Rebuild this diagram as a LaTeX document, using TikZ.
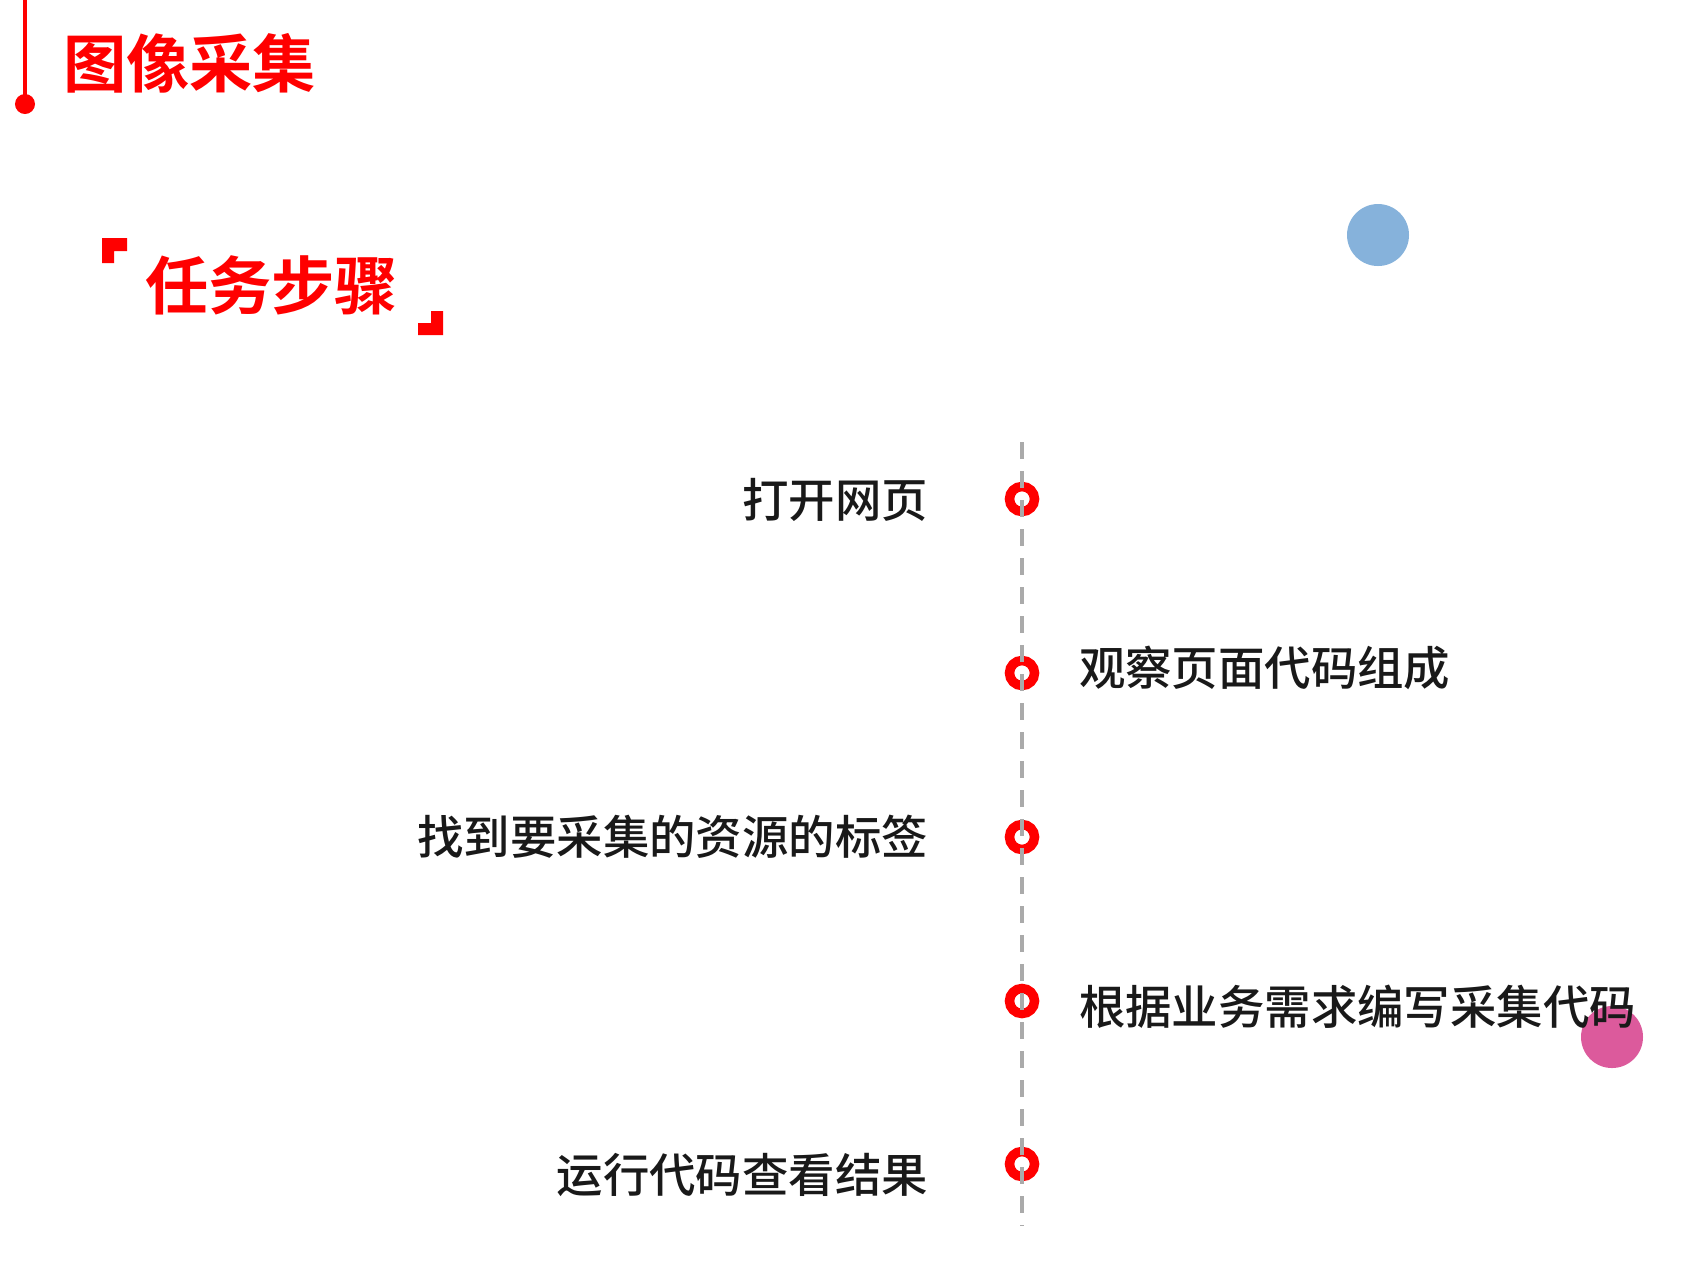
\documentclass[tikz,border=0pt]{standalone}
\usepackage{fontspec}
\newfontfamily\cjk{Noto Sans CJK SC Medium}
\newfontfamily\cjkhead{Noto Sans CJK SC Bold}
\definecolor{stepred}{RGB}{255,0,0}
\definecolor{railgray}{RGB}{170,170,170}
\definecolor{dotblue}{RGB}{134,178,219}
\definecolor{dotpink}{RGB}{220,90,156}

\begin{document}
\begin{tikzpicture}
  [x=0.01cm,y=-0.01cm,
   every node/.style={inner sep=0pt,outer sep=0pt},
   ring/.style={circle,draw=stepred,line width=0.095cm,minimum size=0.25cm},
   steptext/.style={font=\cjk\fontsize{13.2pt}{16pt}\selectfont,text=black!90},
   headtext/.style={font=\cjkhead\fontsize{18pt}{22pt}\selectfont,text=stepred}]
  \useasboundingbox (0,0) rectangle (1700,1262);

  % page title
  \coordinate (mtop) at (25,0);
  \node[circle,fill=stepred,minimum size=0.2cm] (mdot) at (25,104) {};
  \draw[stepred,line width=0.03cm] (mtop) -- (mdot.center);
  \node[headtext,anchor=west] (title) at (63,63) {图像采集};

  % section heading with corner marks
  \fill[stepred] (102,238) -- (127,238) -- (127,251) -- (114,251) -- (114,263) -- (102,263) -- cycle;
  \fill[stepred] (443,335) -- (418,335) -- (418,323) -- (431,323) -- (431,311) -- (443,311) -- cycle;
  \node[headtext,anchor=west] (task) at (145,285) {任务步骤};

  % decoration dots
  \fill[dotblue] (1378,235) circle (31);
  \fill[dotpink] (1612,1037) circle (31);

  % timeline
  \foreach \n/\y in {1/499,2/673,3/837,4/1001,5/1164}
    \node[ring] (s\n) at (1022,\y) {};

  \coordinate (railtop) at (1022,442);
  \coordinate (railend) at (1022,1226);
  \draw[railgray,line width=0.04cm,dash pattern=on 0.17cm off 0.12cm] (railtop) -- (railend);

  \node[steptext,anchor=east] (l1) at (928,500) {打开网页};
  \node[steptext,anchor=west] (l2) at (1079,668) {观察页面代码组成};
  \node[steptext,anchor=east] (l3) at (928,837) {找到要采集的资源的标签};
  \node[steptext,anchor=west] (l4) at (1079,1007) {根据业务需求编写采集代码};
  \node[steptext,anchor=east] (l5) at (928,1175) {运行代码查看结果};

\end{tikzpicture}
\end{document}
